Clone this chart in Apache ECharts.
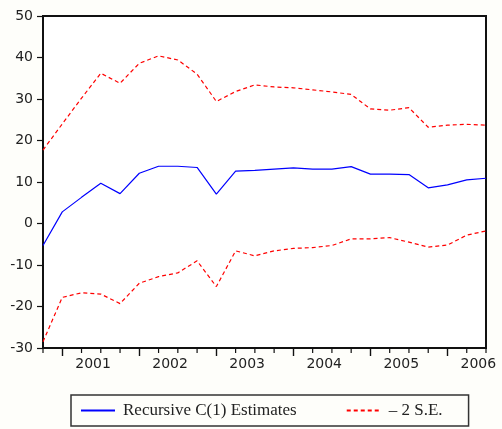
<!DOCTYPE html>
<html>
<head>
<meta charset="utf-8">
<title>Recursive C(1) Estimates</title>
<script src="https://cdn.jsdelivr.net/npm/echarts@6/dist/echarts.min.js"></script>
<style>
  html, body { margin: 0; padding: 0; background: #fefefa; }
  #chart { width: 502px; height: 429px; }
</style>
</head>
<body>
<div id="chart"></div>
<script>
// Quarterly observations, 2000Q4 .. 2006Q3
const quarters = ['2000Q4',
  '2001Q1','2001Q2','2001Q3','2001Q4',
  '2002Q1','2002Q2','2002Q3','2002Q4',
  '2003Q1','2003Q2','2003Q3','2003Q4',
  '2004Q1','2004Q2','2004Q3','2004Q4',
  '2005Q1','2005Q2','2005Q3','2005Q4',
  '2006Q1','2006Q2','2006Q3'];

// Recursive coefficient estimate and its +/- 2 standard error band
const estimate = [-5.3, 2.8, 6.3, 9.7, 7.2, 12.1, 13.8, 13.8, 13.5, 7.1, 12.6, 12.8,
  13.1, 13.4, 13.1, 13.1, 13.7, 11.9, 11.9, 11.8, 8.6, 9.3, 10.5, 10.9];
const upperBand = [17.7, 24.0, 30.2, 36.2, 33.8, 38.6, 40.4, 39.4, 36.0, 29.4, 31.8, 33.4,
  32.9, 32.7, 32.2, 31.7, 31.1, 27.6, 27.3, 27.9, 23.2, 23.7, 23.9, 23.7];
const lowerBand = [-28.5, -17.8, -16.7, -17.0, -19.3, -14.4, -12.8, -11.9, -9.0, -15.2, -6.6, -7.8,
  -6.6, -6.0, -5.8, -5.3, -3.7, -3.7, -3.4, -4.5, -5.7, -5.2, -2.8, -1.8];

// Year labels and axis ticks
const years = ['2001', '2002', '2003', '2004', '2005', '2006'];
const yTicks = { min: -30, max: 50, step: 10 };

const estName = 'Recursive C(1) Estimates';
const seName = '\u2013 2 S.E.';

const lastIdx = quarters.length - 1;
const yearStart = years.map((y) => quarters.indexOf(y + 'Q1'));
// year label sits in the middle of that year's four quarters
const yearLabelPos = yearStart.map((s) => s + 1.6);
const toPairs = (arr) => arr.map((v, i) => [i, v]);
// every quarter that is not the first of its year gets a short tick
const minorIdx = quarters.map((q, i) => (q.endsWith('Q1') ? -1 : i)).filter((i) => i >= 0);

const chart = echarts.init(document.getElementById('chart'), null, { renderer: 'canvas' });

const textColor = '#222';
const axisFont = 'DejaVu Sans';
const legendFont = 'Liberation Serif';

chart.setOption({
  backgroundColor: '#fefefa',
  animation: false,
  grid: {
    left: 43, right: 16, top: 16, bottom: 81,
    show: true, borderColor: '#111', borderWidth: 2, backgroundColor: '#ffffff'
  },
  xAxis: {
    // axis line, year labels, longer tick at the first quarter of each year
    type: 'value', min: 0, max: lastIdx,
    axisLine: { show: true, onZero: false, lineStyle: { color: '#111', width: 2 } },
    axisTick: { show: true, customValues: yearStart, length: 8, lineStyle: { color: '#111', width: 1.4 } },
    axisLabel: {
      show: true, customValues: yearLabelPos, margin: 9,
      color: textColor, fontFamily: axisFont, fontSize: 14,
      formatter: (v) => years[yearLabelPos.findIndex((p) => Math.abs(p - v) < 0.01)]
    },
    splitLine: { show: false }
  },
  yAxis: {
    type: 'value', min: yTicks.min, max: yTicks.max, interval: yTicks.step,
    axisLine: { show: true, onZero: false, lineStyle: { color: '#111', width: 2 } },
    axisTick: { show: true, length: 6, lineStyle: { color: '#111', width: 1.2 } },
    axisLabel: { color: textColor, fontFamily: axisFont, fontSize: 14, margin: 10 },
    splitLine: { show: false }
  },
  legend: {
    left: 71, top: 395,
    padding: [7, 26, 7, 9],
    borderColor: '#333', borderWidth: 1.5,
    itemWidth: 34, itemHeight: 10, itemGap: 49,
    itemStyle: { opacity: 0 },
    textStyle: { fontFamily: legendFont, fontSize: 17, color: textColor, padding: [0, 0, 0, 3] },
    data: [estName, seName]
  },
  series: [
    {
      name: estName, type: 'line', data: toPairs(estimate),
      symbol: 'none', lineStyle: { color: '#0000ff', width: 1.2 }, itemStyle: { color: '#0000ff' }
    },
    {
      name: seName, type: 'line', data: toPairs(upperBand),
      symbol: 'none', lineStyle: { color: '#ff0000', width: 1.2, type: [4, 3] }, itemStyle: { color: '#ff0000' }
    },
    {
      name: seName, type: 'line', data: toPairs(lowerBand),
      symbol: 'none', lineStyle: { color: '#ff0000', width: 1.2, type: [4, 3] }, itemStyle: { color: '#ff0000' }
    },
    {
      // short quarter ticks hanging below the time axis
      type: 'custom', silent: true, clip: false, z: 3,
      data: minorIdx.map((i) => [i]),
      renderItem: (params, api) => {
        const p = api.coord([api.value(0), yTicks.min]);
        return {
          type: 'line',
          shape: { x1: p[0], y1: p[1], x2: p[0], y2: p[1] + 5 },
          style: { stroke: '#111', lineWidth: 1.2 }
        };
      }
    }
  ]
});
</script>
</body>
</html>
